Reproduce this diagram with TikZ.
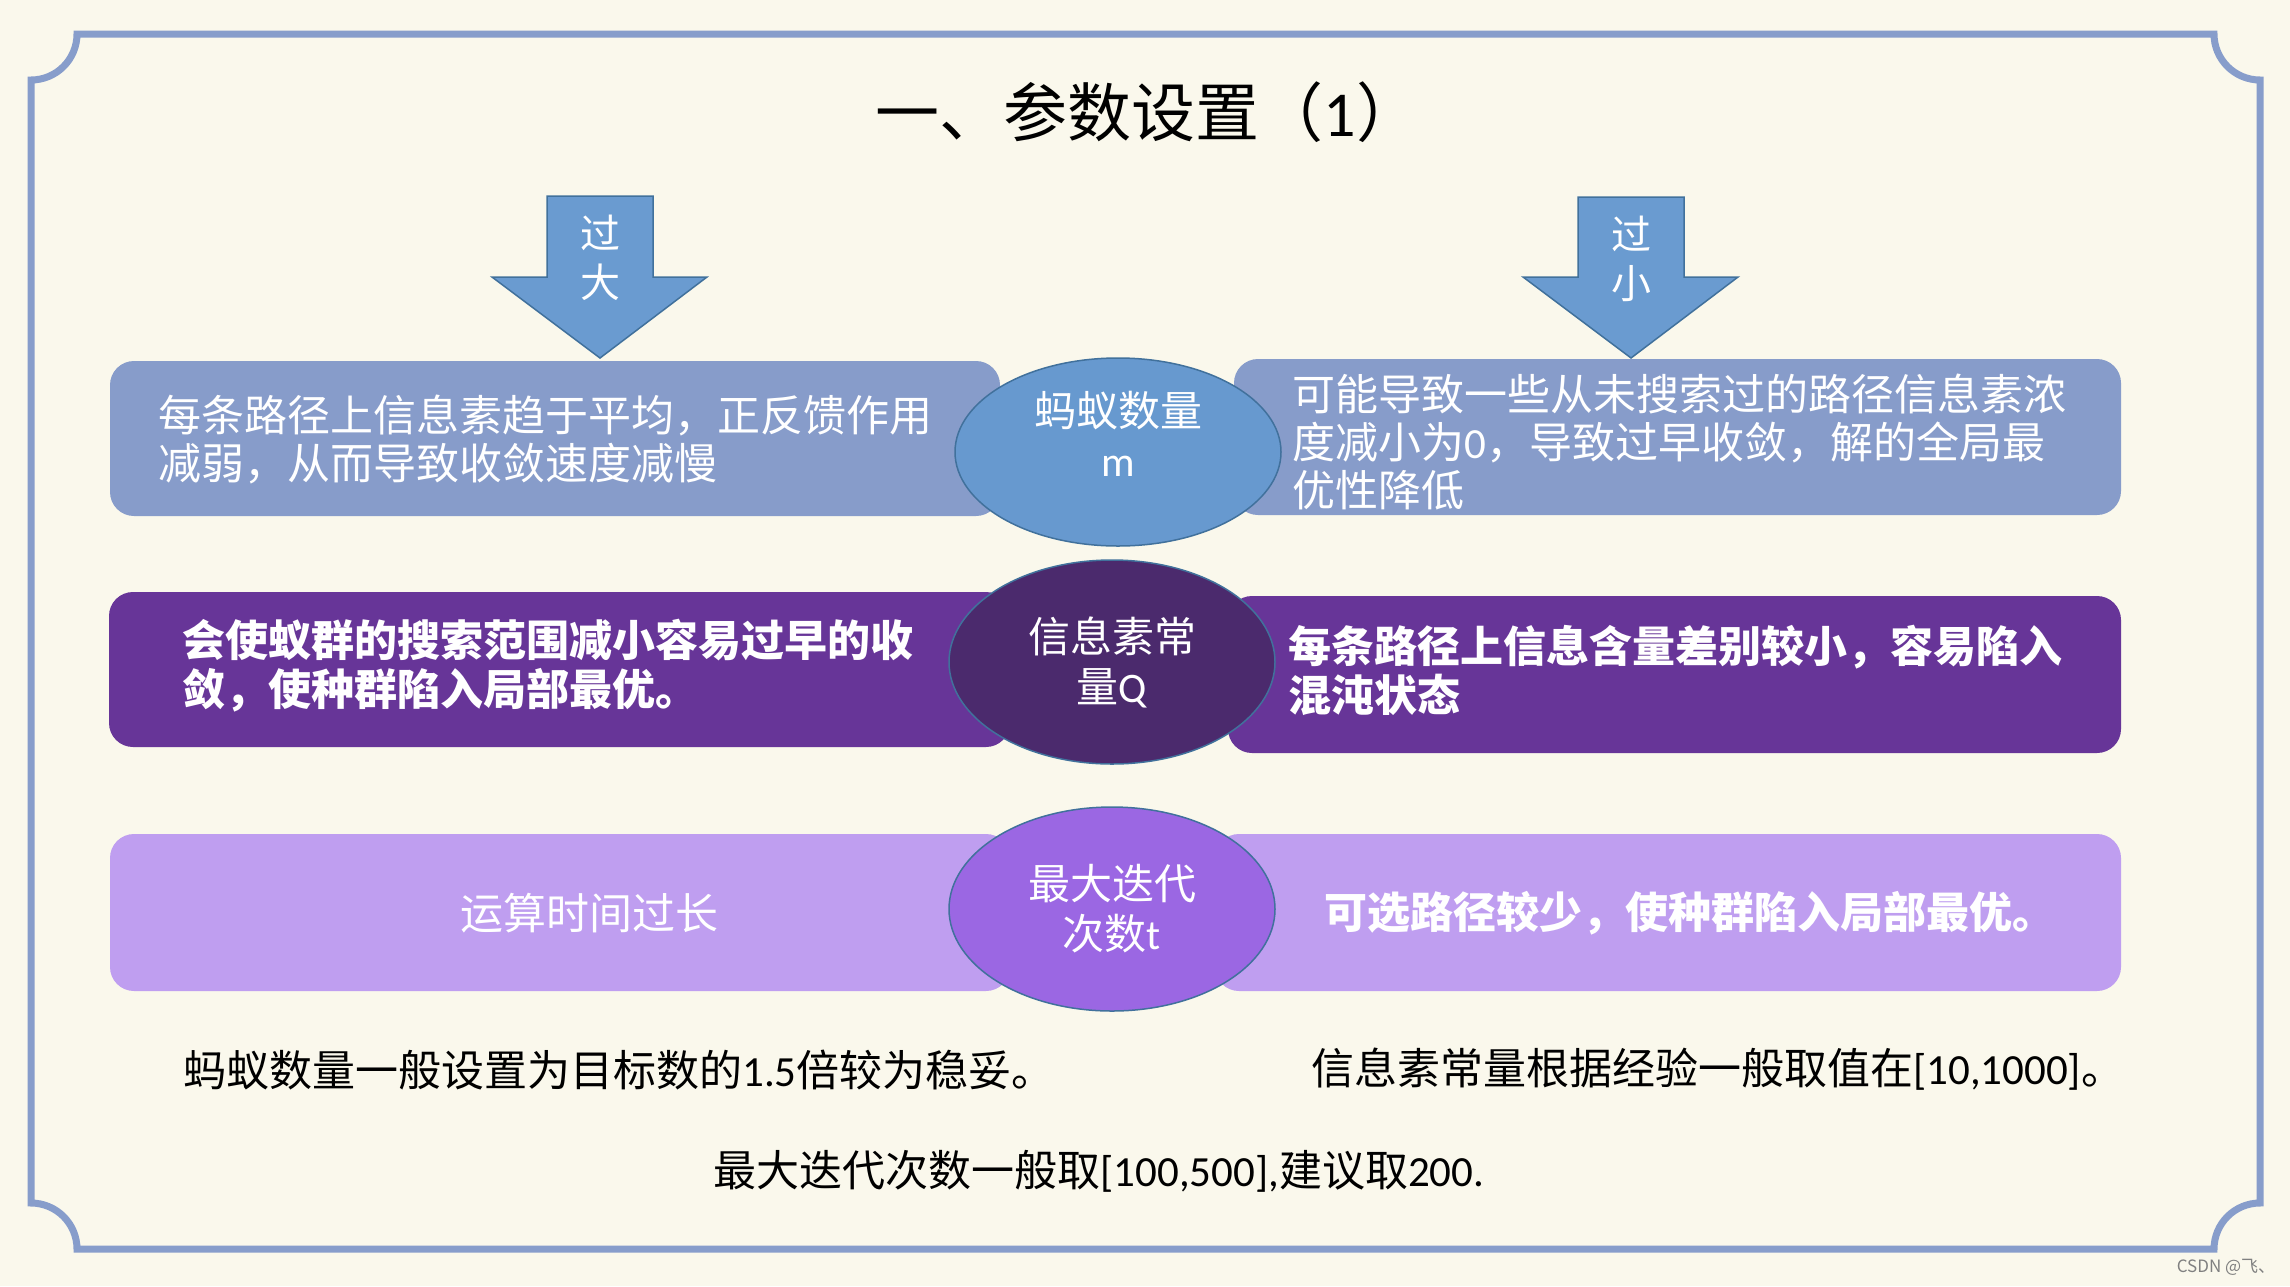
\documentclass[tikz,border=0pt]{standalone}
\usepackage{fontspec}
\setmainfont{Noto Sans CJK SC}
\newfontfamily\lat{Carlito}
\usetikzlibrary{shapes.geometric}
\definecolor{bg}{HTML}{FAF8EC}
\definecolor{frame}{HTML}{879DCB}
\definecolor{arrowfill}{HTML}{6A9BD0}
\definecolor{edge}{HTML}{41719C}
\definecolor{rowA}{HTML}{879CCA}
\definecolor{ellA}{HTML}{6799CF}
\definecolor{rowB}{HTML}{673598}
\definecolor{ellB}{HTML}{4B2A6D}
\definecolor{rowC}{HTML}{BF9EF0}
\definecolor{ellC}{HTML}{9B67E3}
\tikzset{
  boxshape/.style={rectangle, rounded corners=24pt, inner sep=0pt, draw=none},
  ellshape/.style={ellipse, draw=edge, line width=1.5pt, inner sep=0pt, minimum width=326pt},
  elltext/.style={text=white, inner sep=0pt, align=center, font=\fontsize{42}{50}\selectfont},
  boxtext/.style={text=white, inner sep=0pt, anchor=west, align=left, font=\fontsize{43}{48}\selectfont},
  boldtext/.style={boxtext, font=\fontsize{43}{49}\selectfont\bfseries},
  arrowshape/.style={fill=arrowfill, draw=edge, line width=1.5pt, line join=miter},
  arrowtext/.style={text=white, inner sep=0pt, align=center, font=\fontsize{40}{49}\selectfont},
  plaintext/.style={text=black, inner sep=0pt, font=\fontsize{43}{48}\selectfont}
}
\begin{document}
\begin{tikzpicture}[x=1pt,y=-1pt]
\fill[bg] (0,0) rectangle (2290,1286);
\useasboundingbox (0,0) rectangle (2290,1286);
% frame
\draw[frame, line width=7pt]
  (77,34) -- (2214,34) arc[start angle=180, end angle=270, radius=46pt]
  -- (2260,1203) arc[start angle=90, end angle=180, radius=46pt]
  -- (77,1249) arc[start angle=0, end angle=90, radius=46pt]
  -- (31,80) arc[start angle=270, end angle=360, radius=46pt] -- cycle;
% title
\node[inner sep=0pt, font=\fontsize{64}{72}\selectfont] (title) at (1148,112) {一、参数设置（{\lat 1}）};
% arrows
\draw[arrowshape] (547,196) -- (653,196) -- (653,277) -- (707,277) -- (600,358) -- (492,277) -- (547,277) -- cycle;
\node[arrowtext] (big) at (600,258) {过\\大};
\draw[arrowshape] (1578,197) -- (1684,197) -- (1684,277) -- (1738,277) -- (1631,358) -- (1523,277) -- (1578,277) -- cycle;
\node[arrowtext] (small) at (1631,259) {过\\小};
% row 1
\node[boxshape, fill=rowA, minimum width=890pt, minimum height=155pt] (b1l) at (555,438.5) {};
\node[boxshape, fill=rowA, minimum width=887pt, minimum height=156pt] (b1r) at (1677.5,437) {};
\node[ellshape, fill=ellA, minimum height=188pt] (e1) at (1118,452) {};
\node[elltext] (l1) at (e1.center) [yshift=18pt] {蚂蚁数量\\{\lat m}};
\node[boxtext] (t1l) at (158,440) {每条路径上信息素趋于平均，正反馈作用\\减弱，从而导致收敛速度减慢};
\node[boxtext] (t1r) at (1292,442) {可能导致一些从未搜索过的路径信息素浓\\度减小为{\lat 0}，导致过早收敛，解的全局最\\优性降低};
% row 2
\node[boxshape, fill=rowB, minimum width=901pt, minimum height=155pt] (b2l) at (559.5,669.5) {};
\node[boxshape, fill=rowB, minimum width=893pt, minimum height=157pt] (b2r) at (1674.5,674.5) {};
\node[ellshape, fill=ellB, minimum height=204pt] (e2) at (1112,662) {};
\node[elltext] (l2) at (e2.center) {信息素常\\量{\lat Q}};
\node[boldtext] (t2l) at (182,666) {会使蚁群的搜索范围减小容易过早的收\\敛，使种群陷入局部最优。};
\node[boldtext] (t2r) at (1288,670) {每条路径上信息含量差别较小，容易陷入\\混沌状态};
% row 3
\node[boxshape, fill=rowC, minimum width=900pt, minimum height=157pt] (b3l) at (560,912.5) {};
\node[boxshape, fill=rowC, minimum width=906pt, minimum height=157pt] (b3r) at (1668,912.5) {};
\node[ellshape, fill=ellC, minimum height=204pt] (e3) at (1112,909) {};
\node[elltext] (l3) at (e3.center) {最大迭代\\次数{\lat t}};
\node[boxtext, anchor=center] (t3l) at (589,913) {运算时间过长};
\node[boldtext] (t3r) at (1324,913) {可选路径较少，使种群陷入局部最优。};
% bottom notes
\node[plaintext, anchor=west] (n1) at (183,1070) {蚂蚁数量一般设置为目标数的{\lat 1.5}倍较为稳妥。};
\node[plaintext, anchor=west] (n2) at (1311,1069) {信息素常量根据经验一般取值在{\lat [10,1000]}。};
\node[plaintext] (n3) at (1099,1171) {最大迭代次数一般取{\lat [100,500],}建议取{\lat 200.}};
% watermark
\node[inner sep=0pt, text=gray, font=\fontsize{17}{20}\selectfont] (wm) at (2226,1267) {CSDN @飞、};
\end{tikzpicture}
\end{document}
